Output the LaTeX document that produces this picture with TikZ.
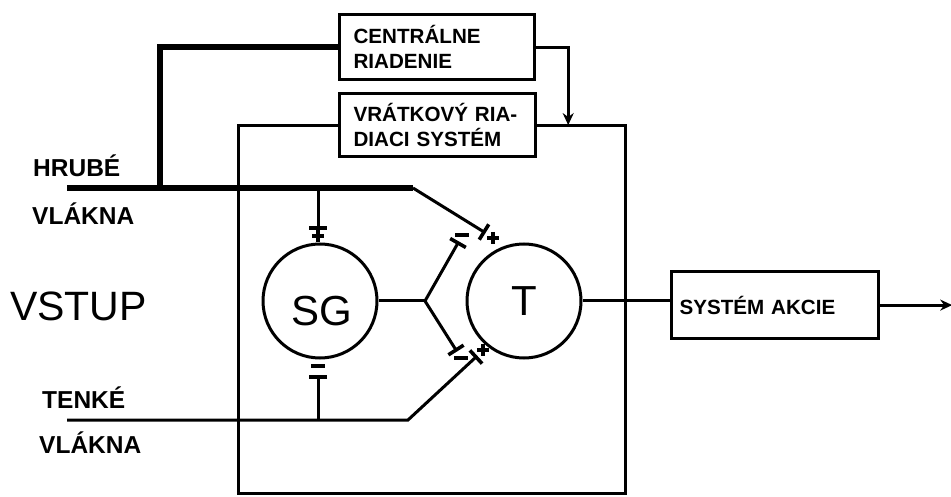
\documentclass[tikz,border=0pt]{standalone}
\usepackage{fontspec}
\setmainfont{Liberation Sans}
\usetikzlibrary{calc,arrows.meta}
\newcommand\plussign[1]{\draw[line width=3.8pt] ($(#1)+(-6,0)$) -- ++(12,0) ($(#1)+(0,-6)$) -- ++(0,12);}
\newcommand\minussign[1]{\draw[line width=4pt] ($(#1)+(-7,0)$) -- ++(14,0);}
\newcommand\synbar[2]{\draw[line width=3.6pt] ($(#1)!9pt!90:(#2)$) -- ($(#1)!9pt!-90:(#2)$);}
\begin{document}
\begin{tikzpicture}[x=1pt,y=-1pt,
  ln/.style={line width=3pt},
  thickln/.style={line width=6pt,line join=miter},
  boxnode/.style={draw,line width=3.2pt,align=left,anchor=north west,
    font=\bfseries\fontsize{20.6}{25}\selectfont,inner xsep=14pt,inner ysep=0pt},
  circ/.style={draw,circle,line width=3pt,minimum size=114pt,inner sep=0pt,
    font=\fontsize{42}{42}\selectfont},
  lab/.style={anchor=base west,inner sep=0pt,font=\bfseries\fontsize{24.5}{28}\selectfont},
  biglab/.style={anchor=base west,inner sep=0pt,font=\fontsize{41}{44}\selectfont},
  arr/.style={-{Stealth[length=12pt,width=11pt]}}
]
\useasboundingbox (0,0) rectangle (951,497);

% boxes
\node[boxnode,minimum width=195pt,minimum height=65pt,text width=167pt] (cr) at (338,13) {CENTRÁLNE\\RIADENIE};
\node[boxnode,minimum width=196pt,minimum height=63pt,text width=168pt] (vr) at (338,92) {VRÁTKOVÝ RIA-\\DIACI SYSTÉM};
\node[boxnode,minimum width=207pt,minimum height=67pt,text width=191pt,inner xsep=8pt] (sa) at (670,270) {SYSTÉM AKCIE};

% neurons
\node[circ,label={[font=\fontsize{42}{42}\selectfont,yshift=-10pt,xshift=2pt]center:SG}] (sg) at (320,301) {};
\node[circ] (t) at (524,301) {T};

% labels
\node[lab] (l1) at (33,177) {HRUBÉ};
\node[lab] (l2) at (32,225) {VLÁKNA};
\node[biglab] (l3) at (10,320) {VSTUP};
\node[lab] (l4) at (42,408) {TENKÉ};
\node[lab] (l5) at (39,453) {VLÁKNA};

% coordinates
\coordinate (hA) at (67,188);
\coordinate (hB) at (413,188);
\coordinate (hJ) at (160,188);
\coordinate (hS) at (318,188);
\coordinate (tA) at (67,420);
\coordinate (tB) at (408,420);
\coordinate (tS) at (318,420);
\coordinate (fk) at (425,301);
\coordinate (s1) at (318,228);
\coordinate (s2) at (318,377);
\coordinate (s3) at (458,243);
\coordinate (s4) at (484,232);
\coordinate (s5) at (456,350);
\coordinate (s6) at (476,357);
\coordinate (bl) at (238,493);
\coordinate (br) at (625,493);
\coordinate (ct) at ($(vr.east)+(31,0)$);
\coordinate (out) at ($(sa.east)+(72,0)$);

% thick input line (coarse fibres)
\draw[thickln] (cr.west) -| (hJ);
\draw[thickln] (hA) -- (hB);
\draw[ln] (hB) -- (s4);
\draw[ln] (hS) -- (s1);

% thin input line (fine fibres)
\draw[ln] (tA) -- (tB) -- (s6);
\draw[ln] (tS) -- (s2);

% SG to T
\draw[ln] (sg.east) -- (fk);
\draw[ln] (fk) -- (s3);
\draw[ln] (fk) -- (s5);

% gate control frame
\draw[ln] (vr.west) -| (bl) -- (br) |- (vr.east);
\draw[ln,arr] (cr.east) -| (ct);

% output
\draw[ln] (t.east) -- (t.east -| sa.west);
\draw[ln,arr] (sa.east) -- (out);

% synaptic terminals
\synbar{s1}{hS}
\synbar{s2}{tS}
\synbar{s3}{fk}
\synbar{s4}{hB}
\synbar{s5}{fk}
\synbar{s6}{tB}

% signs
\plussign{$(s1)!-8pt!(hS)$}
\minussign{$(s2)!-11pt!(tS)$}
\minussign{$(s3)!-9pt!(fk)$}
\plussign{$(s4)!-11pt!(hB)$}
\minussign{$(s5)!-10pt!(fk)$}
\plussign{$(s6)!-10pt!(tB)$}
\end{tikzpicture}
\end{document}
